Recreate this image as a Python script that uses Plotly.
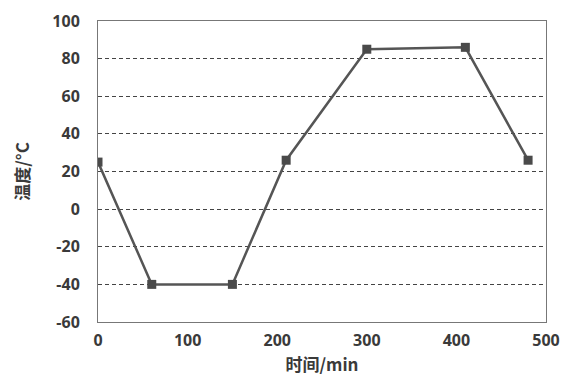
import plotly.graph_objects as go

time_min = [0, 60, 150, 210, 300, 410, 480]
temp_c = [25, -40, -40, 26, 85, 86, 26]
x_ticks = [0, 100, 200, 300, 400, 500]
y_ticks = [-60, -40, -20, 0, 20, 40, 60, 80, 100]
y_tick_labels = ["-60", "-40", "-20", "0", "20", "40", "60", "80", "100"]

font_family = "Open Sans, Noto Sans CJK SC, DejaVu Sans, sans-serif"
text_color = "#3a3a3a"

fig = go.Figure()
fig.add_trace(go.Scatter(
    x=time_min, y=temp_c, mode="lines+markers",
    line=dict(color="#555555", width=2.5),
    marker=dict(symbol="square", size=9, color="#4a4a4a"),
    showlegend=False,
))

fig.update_layout(
    width=564, height=368,
    margin=dict(l=90, r=26, t=13, b=54, autoexpand=False),
    paper_bgcolor="white", plot_bgcolor="white",
    font=dict(family=font_family, color=text_color, size=16),
    xaxis=dict(
        range=[0, 500], tickvals=x_ticks, showgrid=False, zeroline=False,
        showline=True, linecolor="#777777", linewidth=1, mirror=True,
        ticks="", automargin=False, ticklabelstandoff=4,
        tickfont=dict(size=16, color=text_color, weight="bold"),
        title=dict(text="时间/min", font=dict(size=17, color=text_color, weight="bold",
                                           family="Noto Sans CJK SC, sans-serif"), standoff=11),
    ),
    yaxis=dict(
        range=[-60, 100], tickvals=y_ticks, ticktext=y_tick_labels,
        showgrid=True, gridcolor="#444444",
        griddash="4px,3px", gridwidth=1.3, zeroline=False,
        showline=True, linecolor="#777777", linewidth=1, mirror=True,
        ticks="", automargin=False, ticklabelstandoff=14,
        tickfont=dict(size=16, color=text_color, weight="bold"),
        title=dict(text="温度/°C", font=dict(size=17, color=text_color, weight="bold",
                                          family="Noto Sans CJK SC, sans-serif"), standoff=18),
    ),
)

fig.write_html("out.html")
